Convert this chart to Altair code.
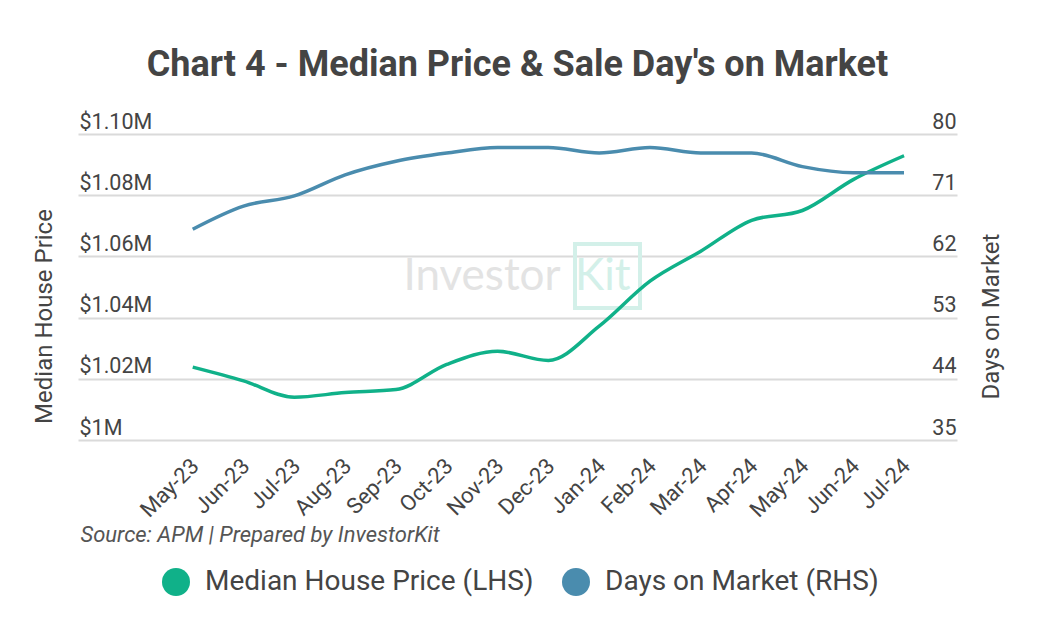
import altair as alt
import pandas as pd

months = ["May-23", "Jun-23", "Jul-23", "Aug-23", "Sep-23", "Oct-23", "Nov-23", "Dec-23",
          "Jan-24", "Feb-24", "Mar-24", "Apr-24", "May-24", "Jun-24", "Jul-24"]
# Median house price in $ millions (LHS)
price_m = [1.0238, 1.0193, 1.0140, 1.0155, 1.0165, 1.0247, 1.0290, 1.0260,
           1.0372, 1.0519, 1.0617, 1.0718, 1.0750, 1.0851, 1.0929]
# Days on market (RHS)
days = [66.0, 69.4, 70.9, 74.0, 76.0, 77.2, 78.0, 78.0,
        77.2, 78.0, 77.2, 77.2, 75.2, 74.3, 74.3]
price_ticks = [1.00, 1.02, 1.04, 1.06, 1.08, 1.10]
days_ticks = [35, 44, 53, 62, 71, 80]
series_names = ["Median House Price (LHS)", "Days on Market (RHS)"]

GREEN = "#10b189"
BLUE = "#4a8cae"
TXT = "#444444"
FONT = "Roboto"

idx = list(range(len(months)))
df = pd.DataFrame({"idx": idx, "month": months, "price": price_m, "days": days})

label_expr = "[" + ",".join("'" + m + "'" for m in months) + "][datum.value]"

x_enc = alt.X(
    "idx:Q",
    scale=alt.Scale(domain=[-2.258, len(months) - 1 + 1.043], nice=False, zero=False),
    axis=alt.Axis(
        values=idx, labelExpr=label_expr, labelAngle=-45,
        labelFontSize=22, labelColor=TXT, labelFont=FONT, labelPadding=15, labelOffset=-5,
        labelFlush=False, labelOverlap=False, ticks=False, tickSize=0, domain=False, grid=False,
        title="Source: APM | Prepared by InvestorKit", titleFont=FONT, titleFontSize=22,
        titleFontStyle="italic", titleFontWeight="normal", titleColor="#555555",
        titleAnchor="start", titleAlign="left", titleX=2, titleY=101, titleBaseline="alphabetic",
    ),
)

price_line = alt.Chart(df).mark_line(
    color=GREEN, strokeWidth=3.5, interpolate="monotone"
).encode(
    x=x_enc,
    y=alt.Y(
        "price:Q",
        scale=alt.Scale(domain=[1.0, 1.10], nice=False, zero=False),
        axis=alt.Axis(
            orient="left", values=price_ticks,
            labelExpr="datum.value == 1 ? '$1M' : '$' + format(datum.value, '.2f') + 'M'",
            labelAlign="left", labelBaseline="alphabetic", labelOffset=-6, labelPadding=-1,
            labelFontSize=21.5, labelColor=TXT, labelFont=FONT, ticks=False, tickSize=0,
            domain=False, grid=True, gridColor="#dadada", gridWidth=2,
            title="Median House Price", titleFont=FONT, titleFontSize=24,
            titleFontWeight="normal", titleColor=TXT, titleAngle=270,
            titleX=-34, titleY=182, titleAlign="center", titleBaseline="middle",
        ),
    ),
)

days_line = alt.Chart(df).mark_line(
    color=BLUE, strokeWidth=3.5, interpolate="monotone"
).encode(
    x=x_enc,
    y=alt.Y(
        "days:Q",
        scale=alt.Scale(domain=[35, 80], nice=False, zero=False),
        axis=alt.Axis(
            orient="right", values=days_ticks,
            labelAlign="right", labelBaseline="alphabetic", labelOffset=-6, labelPadding=-1,
            labelFontSize=21.5, labelColor=TXT, labelFont=FONT, ticks=False, tickSize=0,
            domain=False, grid=False,
            title="Days on Market", titleFont=FONT, titleFontSize=24,
            titleFontWeight="normal", titleColor=TXT, titleAngle=270,
            titleX=34, titleY=182, titleAlign="center", titleBaseline="middle",
        ),
    ),
)

# invisible keys that carry the legend (filled circles)
legend_keys = alt.Chart(pd.DataFrame({"series": series_names})).mark_point(
    filled=True, shape="circle", opacity=0
).encode(
    x=alt.value(0), y=alt.value(0),
    color=alt.Color(
        "series:N",
        scale=alt.Scale(domain=series_names, range=[GREEN, BLUE]),
        legend=alt.Legend(
            title=None, orient="none", legendX=84, legendY=434, direction="horizontal",
            symbolType="circle", symbolSize=784, symbolStrokeWidth=0, symbolOpacity=1,
            labelFontSize=28, labelFont=FONT, labelColor=TXT, labelLimit=600,
            labelOffset=15, columnPadding=28, padding=0,
        ),
    ),
)

wm_text = alt.Chart(pd.DataFrame({"t": ["Investor"]})).mark_text(
    text="Investor", font="Lato", fontSize=44, color="#e3e3e3",
    align="center", baseline="alphabetic"
).encode(x=alt.value(404), y=alt.value(156))

wm_kit = alt.Chart(pd.DataFrame({"t": ["Kit"]})).mark_text(
    text="Kit", font="Lato", fontSize=44, color="#d3f0e9",
    align="left", baseline="alphabetic"
).encode(x=alt.value(497), y=alt.value(156))

wm_box = alt.Chart(pd.DataFrame({"t": ["box"]})).mark_rect(
    fill="transparent", stroke="#d3f0e9", strokeWidth=4
).encode(x=alt.value(497), x2=alt.value(562), y=alt.value(110), y2=alt.value(174))

chart = alt.layer(
    wm_box, wm_text, wm_kit, price_line, days_line, legend_keys
).resolve_scale(
    y="independent"
).properties(
    width=879, height=306,
    title=alt.TitleParams(
        "Chart 4 - Median Price & Sale Day's on Market", font=FONT, fontSize=36,
        fontWeight="bold", color=TXT, anchor="middle", frame="group",
        baseline="alphabetic", offset=34, dy=35,
    ),
    autosize=alt.AutoSizeParams(type="none"),
    padding={"left": 70, "top": 126, "right": 75, "bottom": 180},
    background="white",
).configure_view(stroke=None)

chart.save("out.html", embed_options={"renderer": "svg", "actions": False})
